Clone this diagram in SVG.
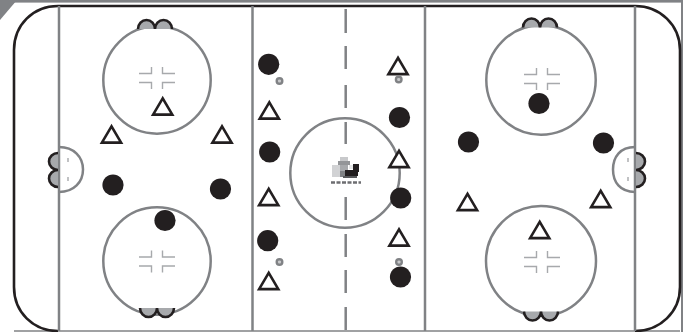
<svg xmlns="http://www.w3.org/2000/svg" width="683" height="332" viewBox="0 0 683 332">
<style>
.g{fill:none;stroke:#808285;stroke-width:2.5}
.h{fill:none;stroke:#a7a9ac;stroke-width:1.4}
.w{fill:none;stroke:#231f20;stroke-width:2.6}
.f{fill:#a7a9ac}
.l{fill:none;stroke:#231f20;stroke-width:2.6}
.p{fill:#231f20}
.t{fill:#fff;stroke:#231f20;stroke-width:2.6;stroke-linejoin:miter}
.r{fill:#c8c9cb;stroke:#808285;stroke-width:2.4}
</style>
<defs>
<circle id="player" class="p" r="10.6"/>
<polygon id="tri" class="t" points="0,-7.6 -9.6,8.6 9.6,8.6"/>
<circle id="ring" class="r" r="2.8"/>
<path id="hash" class="h" d="M-18,-4.5H-5.5V-11M5.5,-11V-4.5H18M-18,4.5H-5.5V11M5.5,11V4.5H18"/>
</defs>
<rect width="683" height="332" fill="#fff"/>
<g id="rink">
<rect x="0" y="0" width="683" height="2.6" fill="#808285"/>
<rect x="681" y="0" width="2" height="332" fill="#808285"/>
<polygon points="0,0 17,0 0,20" fill="#808285"/>
<path d="M14,331H680" fill="none" stroke="#808285" stroke-width="1.6"/>
<path class="w" d="M58,331C33,331 14,312 14,287V50C14,25 33,6 58,6H635C660,6 680,25 680,50V287C680,312 660,331 635,331"/>
<path class="g" d="M59,6V331M252.500,6V331M425,6V331M635,6V331"/>
<path d="M345.700,9V33M345.700,46V69M345.700,85V108M345.700,122V144M345.700,197V220M345.700,234V257M345.700,270V293M345.700,307V330" fill="none" stroke="#808285" stroke-width="2.5"/>
</g>
<g id="circles">
<circle class="g" cx="157" cy="80" r="53.700"/>
<circle class="g" cx="157" cy="261" r="53.700"/>
<circle class="g" cx="541" cy="80" r="54.700"/>
<circle class="g" cx="541" cy="261" r="55"/>
<circle class="g" cx="345" cy="173" r="54.700"/>
<use href="#hash" x="157" y="78"/>
<use href="#hash" x="157" y="261.500"/>
<use href="#hash" x="542" y="79"/>
<use href="#hash" x="542" y="262"/>
</g>
<g id="goals">
<path class="f" d="M138,29A8.500,9 0 0 1 155,29A8.500,9 0 0 1 172,29Z"/>
<path class="l" d="M138,29A8.500,9 0 0 1 155,29A8.500,9 0 0 1 172,29"/>
<path class="f" d="M140,308A8.500,9 0 0 0 157,308A8.500,9 0 0 0 174,308Z"/>
<path class="l" d="M140,308A8.500,9 0 0 0 157,308A8.500,9 0 0 0 174,308"/>
<path class="f" d="M523,27.500A8.500,9 0 0 1 540,27.500A8.500,9 0 0 1 557,27.500Z"/>
<path class="l" d="M523,27.500A8.500,9 0 0 1 540,27.500A8.500,9 0 0 1 557,27.500"/>
<path class="f" d="M524,311.500A8.500,9 0 0 0 541,311.500A8.500,9 0 0 0 558,311.500Z"/>
<path class="l" d="M524,311.500A8.500,9 0 0 0 541,311.500A8.500,9 0 0 0 558,311.500"/>
<path class="g" d="M59,147C74,147 83,157 83,169.500C83,182 74,192 59,192"/>
<path class="g" d="M635,147C620,147 613,157 613,169.500C613,182 620,192 635,192"/>
<path class="f" d="M58,153A9,8.500 0 0 0 58,170A9,8.500 0 0 0 58,187Z"/>
<path class="l" d="M58,153A9,8.500 0 0 0 58,170A9,8.500 0 0 0 58,187"/>
<path class="f" d="M636,153A9,8.500 0 0 1 636,170A9,8.500 0 0 1 636,187Z"/>
<path class="l" d="M636,153A9,8.500 0 0 1 636,170A9,8.500 0 0 1 636,187"/>
<path class="h" d="M68,158V162M68,177V181M628,158V162M628,177V181"/>
</g>
<g id="logo">
<rect x="340" y="157" width="8" height="5" fill="#c8c9cb"/>
<rect x="338" y="161" width="12" height="4" fill="#939598"/>
<rect x="332" y="165" width="8" height="12" fill="#d1d2d4"/>
<rect x="340" y="165" width="8" height="6" fill="#a7a9ac"/>
<rect x="340" y="171" width="5" height="6" fill="#808285"/>
<rect x="349" y="165" width="4" height="4" fill="#e6e7e8"/>
<rect x="353" y="164" width="6" height="8" fill="#231f20"/>
<rect x="345" y="170" width="13" height="6" fill="#231f20"/>
<rect x="343" y="176" width="14" height="2" fill="#58595b"/>
<path d="M331,182.500H361" fill="none" stroke="#6d6e71" stroke-width="2.6" stroke-dasharray="4 1.500"/>
</g>
<g id="players">
<use href="#player" x="113" y="185"/>
<use href="#player" x="220.500" y="189"/>
<use href="#player" x="165" y="220.500"/>
<use href="#player" x="268.700" y="64.300"/>
<use href="#player" x="269.700" y="152"/>
<use href="#player" x="267.700" y="240.700"/>
<use href="#player" x="399.500" y="117.500"/>
<use href="#player" x="400.700" y="198"/>
<use href="#player" x="400.500" y="277"/>
<use href="#player" x="539" y="103.500"/>
<use href="#player" x="468.500" y="142"/>
<use href="#player" x="603.500" y="143"/>
</g>
<g id="opponents">
<use href="#tri" x="162.700" y="106"/>
<use href="#tri" x="111.500" y="134"/>
<use href="#tri" x="222" y="134"/>
<use href="#tri" x="269.300" y="110"/>
<use href="#tri" x="268.700" y="196.500"/>
<use href="#tri" x="268.700" y="280.500"/>
<use href="#tri" x="398" y="65.500"/>
<use href="#tri" x="399" y="158.500"/>
<use href="#tri" x="399" y="237"/>
<use href="#tri" x="467.500" y="201.500"/>
<use href="#tri" x="539.700" y="229.500"/>
<use href="#tri" x="600.700" y="198.500"/>
</g>
<g id="rings">
<use href="#ring" x="279.500" y="81"/>
<use href="#ring" x="398.700" y="79.500"/>
<use href="#ring" x="279.500" y="262"/>
<use href="#ring" x="399" y="262"/>
</g>
</svg>
